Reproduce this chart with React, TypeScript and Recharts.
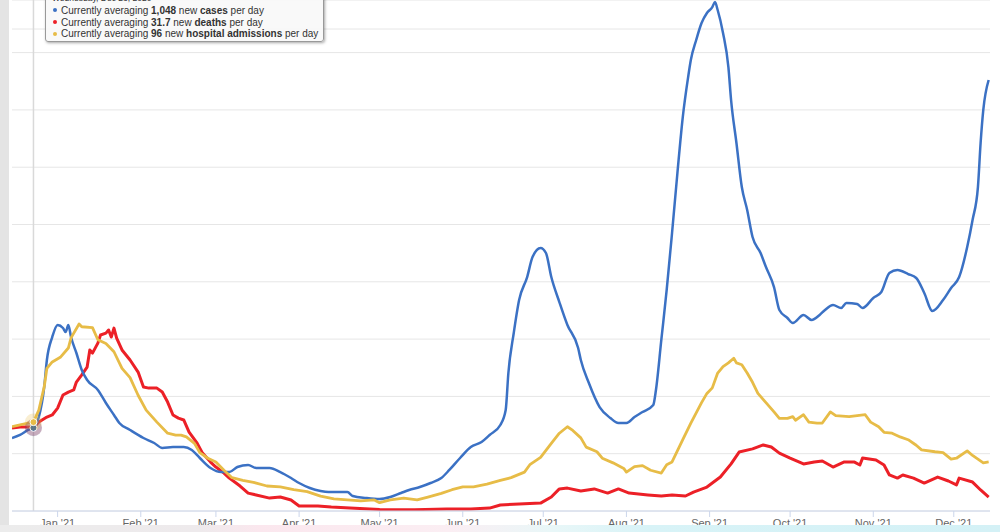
import React from 'react';
import { LineChart, Line, XAxis, YAxis, CartesianGrid, ReferenceLine } from 'recharts';

// x values are days counted from Jan 1, 2021
const monthTicks = [0, 31, 59, 90, 120, 151, 181, 212, 243, 273, 304, 334];
const monthLabels = ["Jan '21", "Feb '21", "Mar '21", "Apr '21", "May '21", "Jun '21", "Jul '21", "Aug '21", "Sep '21", "Oct '21", "Nov '21", "Dec '21"];

const hoverDay = -9; // Wednesday, Dec 23, 2020
const tooltipHeader = 'Wednesday, Dec 23, 2020';

const casesDays = [-17, -14, -11, -9, -7, -5, -4, -2, 0, 2, 3, 4, 5, 7, 9, 11, 15, 18, 21, 23, 27, 32, 36, 39, 43, 47, 50, 53, 57, 61, 64, 67, 71, 74, 79, 83, 87, 90, 94, 98, 101, 108, 110, 115, 120, 124, 128, 131, 135, 139, 143, 146, 150, 154, 158, 161, 165, 167, 168, 170, 172, 175, 177, 180, 182, 184, 187, 190, 194, 195, 198, 202, 206, 209, 212, 215, 218, 222, 223, 225, 227, 229, 231, 233, 235, 236, 238, 240, 242, 244, 245, 246, 248, 250, 251, 253, 255, 257, 259, 262, 264, 267, 269, 272, 274, 278, 281, 284, 286, 289, 292, 294, 298, 300, 304, 307, 310, 313, 317, 320, 323, 326, 330, 333, 336, 339, 341, 343, 344, 345, 347];
const casesValues = [920, 958, 1021, 1048, 1184, 1562, 1903, 2192, 2344, 2306, 2255, 2344, 2192, 1991, 1777, 1651, 1525, 1361, 1210, 1109, 1021, 920, 857, 794, 806, 806, 769, 668, 542, 491, 491, 554, 580, 542, 542, 491, 416, 353, 290, 252, 239, 239, 189, 164, 151, 176, 227, 265, 302, 353, 416, 517, 668, 806, 869, 958, 1084, 1273, 1739, 2243, 2659, 2948, 3200, 3314, 3251, 2948, 2633, 2344, 2054, 1903, 1613, 1310, 1172, 1109, 1109, 1184, 1247, 1336, 1525, 2155, 2785, 3503, 4259, 4964, 5468, 5683, 5935, 6149, 6275, 6350, 6413, 6313, 6023, 5594, 5179, 4637, 4082, 3793, 3452, 3251, 3074, 2822, 2533, 2432, 2369, 2470, 2407, 2470, 2533, 2596, 2558, 2621, 2608, 2558, 2684, 2759, 2999, 3037, 2986, 2936, 2747, 2520, 2659, 2810, 2948, 3326, 3667, 4082, 4637, 5053, 5431];

const deathsDays = [-17, -14, -11, -9, -7, -4, -2, 0, 2, 4, 6, 7, 9, 11, 12, 13, 15, 16, 18, 19, 20, 21, 22, 24, 27, 30, 32, 34, 37, 39, 41, 43, 45, 47, 49, 52, 54, 57, 59, 62, 64, 66, 68, 71, 74, 79, 83, 87, 90, 97, 102, 109, 120, 133, 145, 154, 161, 165, 172, 180, 184, 187, 190, 195, 200, 205, 209, 213, 220, 225, 229, 234, 237, 242, 247, 251, 254, 259, 263, 266, 269, 273, 278, 282, 285, 289, 293, 297, 299, 300, 305, 308, 310, 313, 315, 319, 323, 328, 332, 335, 336, 341, 344, 347];
const deathsValues = [31.5, 31.9, 31.9, 31.7, 33.8, 35.7, 36.5, 39.1, 44.1, 45.2, 46.0, 49.0, 51.7, 54.7, 61.2, 60.0, 63.8, 66.9, 67.6, 68.8, 66.1, 69.5, 65.7, 61.2, 57.4, 52.8, 47.1, 46.7, 46.7, 45.2, 41.4, 36.5, 35.3, 34.6, 30.0, 25.8, 22.0, 18.6, 16.7, 14.4, 12.5, 11.0, 9.5, 6.8, 6.1, 4.9, 5.3, 4.2, 1.9, 1.9, 1.5, 1.1, 0.6, 0.5, 0.8, 0.8, 1.1, 2.3, 2.7, 3.0, 5.3, 8.4, 8.7, 7.6, 8.4, 6.8, 8.4, 6.8, 6.1, 5.7, 6.1, 5.7, 7.2, 9.1, 12.9, 17.9, 22.4, 23.6, 25.1, 24.3, 22.0, 20.1, 17.9, 18.6, 19.0, 16.7, 18.6, 18.6, 17.5, 20.1, 19.4, 17.5, 13.7, 12.5, 13.7, 12.5, 10.6, 12.9, 11.4, 9.9, 12.5, 11.0, 8.0, 5.3];

const hospDays = [-17, -14, -11, -9, -7, -5, -4, -2, 1, 4, 5, 8, 9, 13, 15, 18, 21, 24, 27, 30, 33, 37, 41, 44, 46, 48, 51, 53, 56, 59, 62, 65, 69, 73, 78, 83, 88, 93, 98, 103, 108, 113, 118, 120, 124, 129, 134, 138, 143, 147, 151, 155, 160, 165, 169, 174, 176, 180, 184, 187, 190, 192, 195, 197, 201, 203, 207, 211, 212, 215, 218, 221, 225, 227, 229, 233, 236, 240, 242, 244, 246, 248, 250, 252, 253, 255, 257, 259, 261, 264, 267, 269, 272, 274, 275, 278, 280, 283, 285, 288, 290, 295, 301, 303, 306, 308, 311, 314, 317, 320, 322, 327, 330, 333, 335, 339, 341, 345, 347];
const hospValues = [91, 93, 95, 96, 109, 134, 154, 161, 166, 176, 187, 202, 199, 198, 185, 181, 172, 154, 144, 125, 109, 96, 84, 82, 82, 80, 73, 63, 57, 53, 44, 36, 33, 31, 27, 26, 23, 21, 16, 13, 12, 11, 12, 9, 12, 14, 12, 15, 19, 23, 26, 26, 29, 33, 36, 42, 50, 58, 73, 84, 91, 87, 79, 69, 64, 57, 52, 46, 42, 48, 49, 44, 41, 50, 53, 77, 95, 117, 127, 133, 149, 156, 160, 165, 160, 158, 149, 139, 127, 117, 107, 100, 100, 102, 98, 104, 96, 95, 95, 107, 103, 102, 104, 96, 91, 85, 84, 80, 77, 71, 66, 64, 63, 56, 57, 65, 60, 52, 53];

const casesData = casesDays.map((d, i) => ({ day: d, cases: casesValues[i] }));
const deathsData = deathsDays.map((d, i) => ({ day: d, deaths: deathsValues[i] }));
const hospData = hospDays.map((d, i) => ({ day: d, hosp: hospValues[i] }));

const gridTicks = [0, 722, 1444, 2166, 2888, 3610, 4332, 5054, 5776, 6073];

const BLUE = '#3b71c4';
const RED = '#ec2027';
const YELLOW = '#e7bc47';

const makeHoverDot = (color: string, name: string, showMarker: boolean) => (props: any) => {
  const { cx, cy, payload, index } = props;
  if (!payload || payload.day !== hoverDay || cx == null || cy == null) {
    return <g key={`${name}-${index}`} />;
  }
  return (
    <g key={`${name}-${index}`}>
      <circle cx={cx} cy={cy} r={8.5} fill={color} fillOpacity={0.25} />
      {showMarker && <circle cx={cx} cy={cy} r={3.5} fill={color} stroke="#ffffff" strokeWidth={1} />}
    </g>
  );
};

const Dot = ({ color }: { color: string }) => (
  <span style={{ display: 'inline-block', width: 4, height: 4, borderRadius: 2, background: color, marginRight: 4, marginLeft: 1, verticalAlign: 'middle', position: 'relative', top: -1 }} />
);

const rows = [
  { color: BLUE, value: '1,048', what: 'cases' },
  { color: RED, value: '31.7', what: 'deaths' },
  { color: YELLOW, value: '96', what: 'hospital admissions' },
];

export default function App() {
  return (
    <div style={{ position: 'absolute', left: 0, top: 0, width: 1000, height: 532, overflow: 'hidden', background: '#ffffff', fontFamily: '"Liberation Sans", Arial, sans-serif' }}>
      <div style={{ position: 'absolute', left: 0, top: 0, width: 9, height: 532, background: '#e4e4e4' }} />
      <div style={{ position: 'absolute', left: 0, top: 0 }}>
        <LineChart width={1000} height={532} margin={{ top: 0, right: 10, bottom: 0, left: 12 }}>
          <CartesianGrid vertical={false} stroke="#e6e6e6" strokeWidth={1} yAxisId="cases" />
          <XAxis
            type="number"
            dataKey="day"
            domain={[-17, 347.5]}
            ticks={monthTicks}
            interval={0}
            tickFormatter={(v: number) => monthLabels[monthTicks.indexOf(v)] ?? ''}
            height={21}
            tickSize={6}
            tickMargin={2}
            axisLine={{ stroke: '#ccd6eb' }}
            tickLine={{ stroke: '#ccd6eb' }}
            tick={{ fill: '#666666', fontSize: 11, fontFamily: '"Liberation Sans", Arial, sans-serif' }}
            allowDataOverflow
          />
          <YAxis yAxisId="cases" hide domain={[0, 6439]} ticks={gridTicks} interval={0} allowDataOverflow />
          <YAxis yAxisId="deaths" hide domain={[0, 194.2]} allowDataOverflow />
          <YAxis yAxisId="hosp" hide domain={[0, 551.9]} allowDataOverflow />
          <ReferenceLine yAxisId="cases" x={hoverDay} stroke="#d9d9d9" strokeWidth={1.5} />
          <Line
            yAxisId="deaths"
            data={deathsData}
            dataKey="deaths"
            type="linear"
            stroke={RED}
            strokeWidth={3}
            strokeLinejoin="round"
            dot={makeHoverDot(RED, 'd', false)}
            activeDot={false}
            isAnimationActive={false}
          />
          <Line
            yAxisId="cases"
            data={casesData}
            dataKey="cases"
            type="monotone"
            stroke={BLUE}
            strokeWidth={2.5}
            dot={makeHoverDot('#2f5f9e', 'c', true)}
            activeDot={false}
            isAnimationActive={false}
          />
          <Line
            yAxisId="hosp"
            data={hospData}
            dataKey="hosp"
            type="linear"
            stroke={YELLOW}
            strokeWidth={2.8}
            strokeLinejoin="round"
            dot={makeHoverDot(YELLOW, 'h', true)}
            activeDot={false}
            isAnimationActive={false}
          />
        </LineChart>
      </div>
      <div
        style={{
          position: 'absolute',
          left: 45,
          top: -13,
          width: 279,
          height: 55,
          boxSizing: 'border-box',
          border: '1px solid #999999',
          borderRadius: 3,
          background: 'rgba(248,248,248,0.92)',
          boxShadow: '1px 1px 3px rgba(0,0,0,0.35)',
          padding: '0 0 0 6px',
          color: '#333333',
          fontSize: 10,
          lineHeight: '11.7px',
          whiteSpace: 'nowrap',
        }}
      >
        <div style={{ fontSize: 8.5, lineHeight: '10px', marginTop: 5, marginBottom: 2, color: '#333' }}>{tooltipHeader}</div>
        {rows.map((r) => (
          <div key={r.what}>
            <Dot color={r.color} />
            Currently averaging <b>{r.value}</b> new <b>{r.what}</b> per day
          </div>
        ))}
      </div>
      <div
        style={{
          position: 'absolute',
          left: 0,
          top: 525,
          width: 1000,
          height: 7,
          background: 'linear-gradient(90deg, #ececec 0%, #eeeaec 20%, #fbe7ee 26%, #fbeef3 45%, #e9f7f8 55%, #d8f3f7 65%, #d4f1f6 100%)',
        }}
      />
    </div>
  );
}
